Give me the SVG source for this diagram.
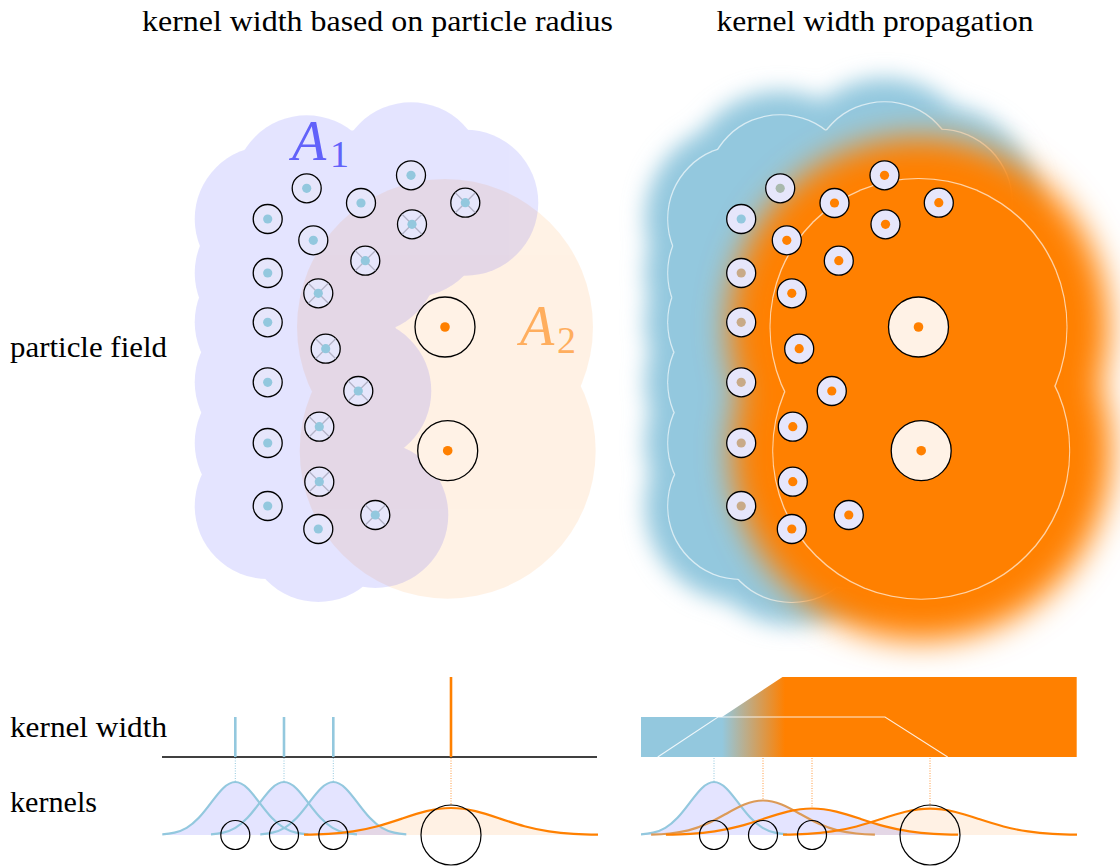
<svg xmlns="http://www.w3.org/2000/svg" width="1120" height="867" viewBox="0 0 1120 867">
<style>
.t{font-family:"Liberation Serif","Times New Roman",serif;font-size:29px;fill:#000}
.lab{font-family:"Liberation Serif","Times New Roman",serif}
.pc{fill:#e6e6fb;stroke:#000;stroke-width:1.3}
.bc{fill:#fff2e6;stroke:#000;stroke-width:1.3}
.db{fill:#93c8de}
.do{fill:#ff8000}
.dg{fill:#a9b9ad}
.dt{fill:#c8aa88}
.xm{fill:none;stroke:#b4b4c8;stroke-width:1.3}
.gb{fill:none;stroke:#93c8de;stroke-width:2.2}
.go{fill:none;stroke:#ff8000;stroke-width:2.2}
.gt{fill:none;stroke:#dc9a58;stroke-width:2.2}
.ring{fill:none;stroke:#000;stroke-width:1.2}
.dotb{stroke:#93c8de;stroke-width:1;stroke-dasharray:1 1.5}
.doto{stroke:#ff9a40;stroke-width:1;stroke-dasharray:1 1.5}
.tick{stroke-width:2.6}
</style>
<defs>
<path id="gs" vector-effect="non-scaling-stroke" d="M-3,-0.0111 C-2.8333,-0.0167 -2.6667,-0.0256 -2.5,-0.0439 C-2.3333,-0.0622 -2.1667,-0.0902 -2,-0.1353 C-1.8333,-0.1804 -1.6667,-0.2435 -1.5,-0.3247 C-1.3333,-0.4059 -1.1667,-0.5054 -1,-0.6065 C-0.8333,-0.7076 -0.6667,-0.809 -0.5,-0.8825 C-0.3333,-0.956 -0.1667,-1 0,-1 C0.1667,-1 0.3333,-0.956 0.5,-0.8825 C0.6667,-0.809 0.8333,-0.7076 1,-0.6065 C1.1667,-0.5054 1.3333,-0.4059 1.5,-0.3247 C1.6667,-0.2435 1.8333,-0.1804 2,-0.1353 C2.1667,-0.0902 2.3333,-0.0622 2.5,-0.0439 C2.6667,-0.0256 2.8333,-0.0167 3,-0.0111"/>
<path id="gf" d="M-3,-0.0111 C-2.8333,-0.0167 -2.6667,-0.0256 -2.5,-0.0439 C-2.3333,-0.0622 -2.1667,-0.0902 -2,-0.1353 C-1.8333,-0.1804 -1.6667,-0.2435 -1.5,-0.3247 C-1.3333,-0.4059 -1.1667,-0.5054 -1,-0.6065 C-0.8333,-0.7076 -0.6667,-0.809 -0.5,-0.8825 C-0.3333,-0.956 -0.1667,-1 0,-1 C0.1667,-1 0.3333,-0.956 0.5,-0.8825 C0.6667,-0.809 0.8333,-0.7076 1,-0.6065 C1.1667,-0.5054 1.3333,-0.4059 1.5,-0.3247 C1.6667,-0.2435 1.8333,-0.1804 2,-0.1353 C2.1667,-0.0902 2.3333,-0.0622 2.5,-0.0439 C2.6667,-0.0256 2.8333,-0.0167 3,-0.0111 L3,0 L-3,0 Z"/>
<circle id="pcir" r="14.5"/>
<path id="xm" d="M-10,-10 L10,10 M-10,10 L10,-10"/>
<g id="k73">
<circle cx="306.7" cy="188.3" r="73"/><circle cx="361" cy="203" r="73"/><circle cx="411" cy="175.3" r="73"/><circle cx="465.3" cy="202.7" r="73"/><circle cx="267.7" cy="219" r="73"/><circle cx="313.3" cy="240.3" r="73"/><circle cx="412" cy="224.3" r="73"/><circle cx="365.3" cy="260.7" r="73"/><circle cx="267.7" cy="273" r="73"/><circle cx="318.3" cy="293.3" r="73"/><circle cx="267.7" cy="322.3" r="73"/><circle cx="325.7" cy="348.7" r="73"/><circle cx="267.7" cy="382.3" r="73"/><circle cx="358.3" cy="391" r="73"/><circle cx="319.3" cy="426.7" r="73"/><circle cx="267.7" cy="443" r="73"/><circle cx="319.3" cy="481.7" r="73"/><circle cx="267.7" cy="506" r="73"/><circle cx="318.3" cy="529" r="73"/><circle cx="375.3" cy="515" r="73"/>
</g>
<g id="k92">
<circle cx="306.7" cy="188.3" r="97"/><circle cx="361" cy="203" r="97"/><circle cx="411" cy="175.3" r="97"/><circle cx="465.3" cy="202.7" r="97"/><circle cx="267.7" cy="219" r="96"/><circle cx="313.3" cy="240.3" r="96"/><circle cx="412" cy="224.3" r="96"/><circle cx="365.3" cy="260.7" r="96"/><circle cx="267.7" cy="273" r="96"/><circle cx="318.3" cy="293.3" r="96"/><circle cx="267.7" cy="322.3" r="96"/><circle cx="325.7" cy="348.7" r="96"/><circle cx="267.7" cy="382.3" r="96"/><circle cx="358.3" cy="391" r="96"/><circle cx="319.3" cy="426.7" r="96"/><circle cx="267.7" cy="443" r="96"/><circle cx="319.3" cy="481.7" r="96"/><circle cx="267.7" cy="506" r="96"/><circle cx="318.3" cy="529" r="96"/><circle cx="375.3" cy="515" r="96"/>
</g>
<g id="k148"><circle cx="445" cy="327" r="148"/><circle cx="447.7" cy="450.7" r="148"/></g>
<g id="k188"><circle cx="445" cy="327" r="190"/><circle cx="447.7" cy="450.7" r="190"/></g>
<filter id="fb" x="-30%" y="-30%" width="160%" height="160%"><feGaussianBlur stdDeviation="11"/></filter>
<filter id="fo" x="-30%" y="-30%" width="160%" height="160%"><feGaussianBlur stdDeviation="16"/></filter>
<filter id="ol" x="-5%" y="-5%" width="110%" height="110%"><feMorphology in="SourceAlpha" operator="dilate" radius="1" result="d"/><feComposite in="d" in2="SourceAlpha" operator="out" result="o"/><feFlood flood-color="#fff" flood-opacity="0.65"/><feComposite in2="o" operator="in"/></filter>
<linearGradient id="bar" gradientUnits="userSpaceOnUse" x1="722" y1="0" x2="785" y2="0"><stop offset="0" stop-color="#93c8de"/><stop offset="1" stop-color="#ff8000"/></linearGradient>
</defs>

<rect width="1120" height="867" fill="#fff"/>

<!-- titles and row labels -->
<g id="labels">
<text class="t" x="377.5" y="31" text-anchor="middle" textLength="471" lengthAdjust="spacingAndGlyphs">kernel width based on particle radius</text>
<text class="t" x="875" y="31" text-anchor="middle" textLength="317" lengthAdjust="spacingAndGlyphs">kernel width propagation</text>
<text class="t" x="10" y="357" textLength="157" lengthAdjust="spacingAndGlyphs">particle field</text>
<text class="t" x="10" y="737" textLength="157" lengthAdjust="spacingAndGlyphs">kernel width</text>
<text class="t" x="10" y="812" textLength="87" lengthAdjust="spacingAndGlyphs">kernels</text>
</g>

<!-- LEFT PANEL regions -->
<g id="regionA2" fill="#ff8000" opacity="0.1"><use href="#k148"/></g>
<g id="regionA1" fill="#0000ff" opacity="0.1"><use href="#k73"/></g>
<g id="labelA1" fill="#6262fa" class="lab"><text x="292" y="160" font-size="56" font-style="italic">A</text><text x="330" y="166.5" font-size="38">1</text></g>
<g id="labelA2" fill="#ffae5e" class="lab"><text x="520" y="345" font-size="56" font-style="italic">A</text><text x="557" y="352.5" font-size="38">2</text></g>

<!-- left particles -->
<g id="L1" transform="translate(306.7,188.3)"><use href="#pcir" class="pc"/><circle r="4.6" class="db"/></g>
<g id="L2" transform="translate(361,203)"><use href="#pcir" class="pc"/><circle r="4.6" class="db"/></g>
<g id="L3" transform="translate(411,175.3)"><use href="#pcir" class="pc"/><circle r="4.6" class="db"/></g>
<g id="L4" transform="translate(465.3,202.7)"><use href="#pcir" class="pc"/><use href="#xm" class="xm"/><circle r="4.6" class="db"/></g>
<g id="L5" transform="translate(267.7,219)"><use href="#pcir" class="pc"/><circle r="4.6" class="db"/></g>
<g id="L6" transform="translate(313.3,240.3)"><use href="#pcir" class="pc"/><circle r="4.6" class="db"/></g>
<g id="L7" transform="translate(412,224.3)"><use href="#pcir" class="pc"/><use href="#xm" class="xm"/><circle r="4.6" class="db"/></g>
<g id="L8" transform="translate(365.3,260.7)"><use href="#pcir" class="pc"/><use href="#xm" class="xm"/><circle r="4.6" class="db"/></g>
<g id="L9" transform="translate(267.7,273)"><use href="#pcir" class="pc"/><circle r="4.6" class="db"/></g>
<g id="L10" transform="translate(318.3,293.3)"><use href="#pcir" class="pc"/><use href="#xm" class="xm"/><circle r="4.6" class="db"/></g>
<g id="L11" transform="translate(267.7,322.3)"><use href="#pcir" class="pc"/><circle r="4.6" class="db"/></g>
<g id="L12" transform="translate(325.7,348.7)"><use href="#pcir" class="pc"/><use href="#xm" class="xm"/><circle r="4.6" class="db"/></g>
<g id="L13" transform="translate(267.7,382.3)"><use href="#pcir" class="pc"/><circle r="4.6" class="db"/></g>
<g id="L14" transform="translate(358.3,391)"><use href="#pcir" class="pc"/><use href="#xm" class="xm"/><circle r="4.6" class="db"/></g>
<g id="L15" transform="translate(319.3,426.7)"><use href="#pcir" class="pc"/><use href="#xm" class="xm"/><circle r="4.6" class="db"/></g>
<g id="L16" transform="translate(267.7,443)"><use href="#pcir" class="pc"/><circle r="4.6" class="db"/></g>
<g id="L17" transform="translate(319.3,481.7)"><use href="#pcir" class="pc"/><use href="#xm" class="xm"/><circle r="4.6" class="db"/></g>
<g id="L18" transform="translate(267.7,506)"><use href="#pcir" class="pc"/><circle r="4.6" class="db"/></g>
<g id="L19" transform="translate(318.3,529)"><use href="#pcir" class="pc"/><circle r="4.6" class="db"/></g>
<g id="L20" transform="translate(375.3,515)"><use href="#pcir" class="pc"/><use href="#xm" class="xm"/><circle r="4.6" class="db"/></g>
<g id="LB1" transform="translate(445,327)"><circle r="30" class="bc"/><circle r="4.8" class="do"/></g>
<g id="LB2" transform="translate(447.7,450.7)"><circle r="30" class="bc"/><circle r="4.8" class="do"/></g>

<!-- RIGHT PANEL -->
<g id="rightPanel" transform="translate(473.5,0)">
<g id="blueSpread" fill="#93c8de" filter="url(#fb)"><use href="#k92"/></g>
<g id="outlineA1" fill="#000" filter="url(#ol)"><use href="#k73"/></g>
<g id="orangeSpread" fill="#ff8000" filter="url(#fo)"><use href="#k188"/></g>
<g id="outlineA2" fill="#000" filter="url(#ol)"><use href="#k148"/></g>
<g id="R1" transform="translate(306.7,188.3)"><use href="#pcir" class="pc"/><circle r="4.6" class="dg"/></g>
<g id="R2" transform="translate(361,203)"><use href="#pcir" class="pc"/><circle r="4.6" class="do"/></g>
<g id="R3" transform="translate(411,175.3)"><use href="#pcir" class="pc"/><circle r="4.6" class="do"/></g>
<g id="R4" transform="translate(465.3,202.7)"><use href="#pcir" class="pc"/><circle r="4.6" class="do"/></g>
<g id="R5" transform="translate(267.7,219)"><use href="#pcir" class="pc"/><circle r="4.6" class="db"/></g>
<g id="R6" transform="translate(313.3,240.3)"><use href="#pcir" class="pc"/><circle r="4.6" class="do"/></g>
<g id="R7" transform="translate(412,224.3)"><use href="#pcir" class="pc"/><circle r="4.6" class="do"/></g>
<g id="R8" transform="translate(365.3,260.7)"><use href="#pcir" class="pc"/><circle r="4.6" class="do"/></g>
<g id="R9" transform="translate(267.7,273)"><use href="#pcir" class="pc"/><circle r="4.6" class="dt"/></g>
<g id="R10" transform="translate(318.3,293.3)"><use href="#pcir" class="pc"/><circle r="4.6" class="do"/></g>
<g id="R11" transform="translate(267.7,322.3)"><use href="#pcir" class="pc"/><circle r="4.6" class="dt"/></g>
<g id="R12" transform="translate(325.7,348.7)"><use href="#pcir" class="pc"/><circle r="4.6" class="do"/></g>
<g id="R13" transform="translate(267.7,382.3)"><use href="#pcir" class="pc"/><circle r="4.6" class="dt"/></g>
<g id="R14" transform="translate(358.3,391)"><use href="#pcir" class="pc"/><circle r="4.6" class="do"/></g>
<g id="R15" transform="translate(319.3,426.7)"><use href="#pcir" class="pc"/><circle r="4.6" class="do"/></g>
<g id="R16" transform="translate(267.7,443)"><use href="#pcir" class="pc"/><circle r="4.6" class="dt"/></g>
<g id="R17" transform="translate(319.3,481.7)"><use href="#pcir" class="pc"/><circle r="4.6" class="do"/></g>
<g id="R18" transform="translate(267.7,506)"><use href="#pcir" class="pc"/><circle r="4.6" class="dt"/></g>
<g id="R19" transform="translate(318.3,529)"><use href="#pcir" class="pc"/><circle r="4.6" class="do"/></g>
<g id="R20" transform="translate(375.3,515)"><use href="#pcir" class="pc"/><circle r="4.6" class="do"/></g>
<g id="RB1" transform="translate(445,327)"><circle r="30" class="bc"/><circle r="4.8" class="do"/></g>
<g id="RB2" transform="translate(447.7,450.7)"><circle r="30" class="bc"/><circle r="4.8" class="do"/></g>
</g>

<!-- BOTTOM LEFT: kernel widths -->
<g id="kwLeft">
<line x1="162" y1="757" x2="597" y2="757" stroke="#000" stroke-width="1.3"/>
<line class="tick" x1="235.3" y1="717" x2="235.3" y2="757" stroke="#93c8de"/>
<line class="tick" x1="284" y1="717" x2="284" y2="757" stroke="#93c8de"/>
<line class="tick" x1="333.3" y1="717" x2="333.3" y2="757" stroke="#93c8de"/>
<line class="tick" x1="451" y1="677" x2="451" y2="757" stroke="#ff8000"/>
</g>

<!-- BOTTOM RIGHT: propagated kernel width -->
<g id="kwRight">
<polygon points="641,717 722,717 782.5,677 1076.7,677 1076.7,757 641,757" fill="url(#bar)"/>
<polyline points="657.7,757 718,717 885,717 947.7,757" fill="none" stroke="#fff" stroke-opacity="0.85" stroke-width="1.1"/>
</g>

<!-- connectors: dotted guides -->
<g id="connectors" fill="none">
<line class="dotb" x1="235.3" y1="758" x2="235.3" y2="782"/>
<line class="dotb" x1="284" y1="758" x2="284" y2="782"/>
<line class="dotb" x1="333.3" y1="758" x2="333.3" y2="782"/>
<line class="doto" x1="451" y1="758" x2="451" y2="806"/>
<line class="dotb" x1="714" y1="758" x2="714" y2="782"/>
<line class="doto" x1="763" y1="758" x2="763" y2="800"/>
<line class="doto" x1="812" y1="758" x2="812" y2="808"/>
<line class="doto" x1="930" y1="758" x2="930" y2="808"/>
</g>

<!-- kernels left -->
<g id="kernelsLeft">
<g fill="#ff8000" opacity="0.1"><use href="#gf" transform="translate(451,835) scale(49,27)"/></g>
<g fill="#0000ff" opacity="0.1">
<use href="#gf" transform="translate(235.3,835) scale(24.33,53)"/>
<use href="#gf" transform="translate(284,835) scale(24.33,53)"/>
<use href="#gf" transform="translate(333.3,835) scale(24.33,53)"/>
</g>
<use href="#gs" class="gb" transform="translate(235.3,835) scale(24.33,53)"/>
<use href="#gs" class="gb" transform="translate(284,835) scale(24.33,53)"/>
<use href="#gs" class="gb" transform="translate(333.3,835) scale(24.33,53)"/>
<use href="#gs" class="go" transform="translate(451,835) scale(49,27)"/>
<circle class="ring" cx="235.3" cy="835" r="14.5"/>
<circle class="ring" cx="284" cy="835" r="14.5"/>
<circle class="ring" cx="333.3" cy="835" r="14.5"/>
<circle class="ring" cx="451" cy="835" r="30"/>
</g>

<!-- kernels right -->
<g id="kernelsRight">
<g fill="#ff8000" opacity="0.1"><use href="#gf" transform="translate(930,835) scale(49,26.3)"/></g>
<g fill="#0000ff" opacity="0.1">
<use href="#gf" transform="translate(714,835) scale(24.33,53)"/>
<use href="#gf" transform="translate(763,835) scale(37.3,34.5)"/>
<use href="#gf" transform="translate(812,835) scale(48.7,26.5)"/>
</g>
<use href="#gs" class="gb" transform="translate(714,835) scale(24.33,53)"/>
<use href="#gs" class="gt" transform="translate(763,835) scale(37.3,34.5)"/>
<use href="#gs" class="go" transform="translate(812,835) scale(48.7,26.5)"/>
<use href="#gs" class="go" transform="translate(930,835) scale(49,26.3)"/>
<circle class="ring" cx="714" cy="835" r="14.5"/>
<circle class="ring" cx="763" cy="835" r="14.5"/>
<circle class="ring" cx="812" cy="835" r="14.5"/>
<circle class="ring" cx="930" cy="835" r="30"/>
</g>
</svg>
